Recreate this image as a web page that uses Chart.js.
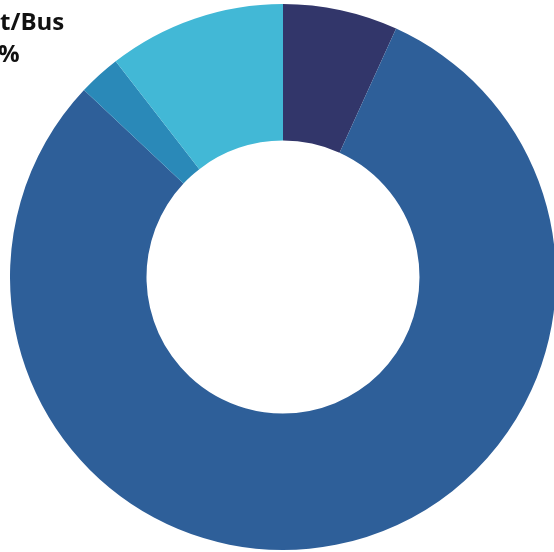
<!DOCTYPE html>
<html>
<head>
<meta charset="utf-8">
<script src="https://cdn.jsdelivr.net/npm/chart.js@4/dist/chart.umd.min.js"></script>
<style>
html,body{margin:0;padding:0;background:#fff;width:554px;height:552px;overflow:hidden;position:relative;}
#wrap{position:absolute;left:10px;top:4px;width:546px;height:546px;}
#lbl{position:absolute;left:-105px;top:5px;width:200px;text-align:center;font-family:"Open Sans",sans-serif;font-weight:700;font-size:24px;line-height:32px;color:#111;}
</style>
</head>
<body>
<div id="wrap"><canvas id="c" width="546" height="546"></canvas></div>
<div id="lbl">Transit/Bus<br>11%</div>
<script>
const labels=['Other','Drive alone','Walk','Transit/Bus'];
const values=[6.8,80.2,2.5,10.5];
const colors=['#32366a','#2e5f99','#2a89b8','#42b8d6'];

new Chart(document.getElementById('c'),{
  type:'doughnut',
  data:{labels,datasets:[{data:values,backgroundColor:colors,borderWidth:0}]},
  options:{responsive:false,animation:false,cutout:'50%',
    layout:{padding:0},
    plugins:{legend:{display:false},tooltip:{enabled:false}}}
});
</script>
</body>
</html>
